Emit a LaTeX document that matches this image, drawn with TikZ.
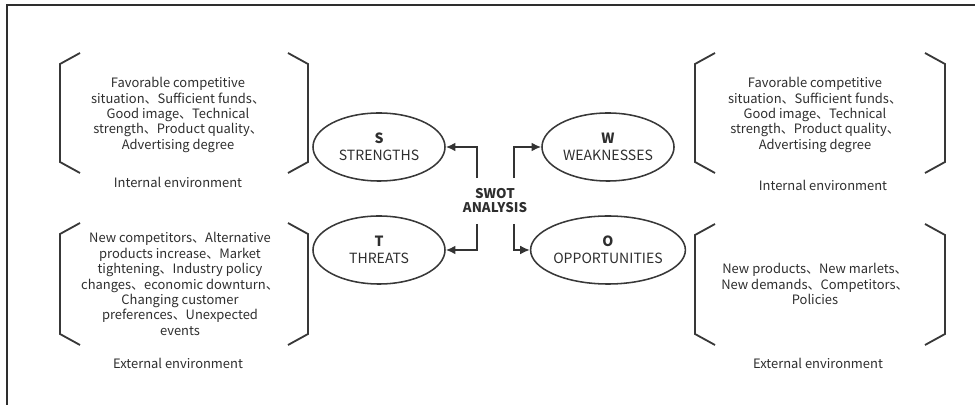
\documentclass[tikz,border=0pt]{standalone}
\usepackage{fontspec}
\setmainfont{Noto Sans CJK SC}
\usetikzlibrary{arrows.meta,positioning,shapes.geometric}
% left x, right x, top y, bottom y
\newcommand{\bracketpair}[4]{%
  \draw[brk] (#1+20,#3) -- (#1,#3+11) -- (#1,#4-11) -- (#1+20,#4);
  \draw[brk] (#2-20,#3) -- (#2,#3+11) -- (#2,#4-11) -- (#2-20,#4);}

\begin{document}
\begin{tikzpicture}[x=0.025cm, y=-0.025cm,
  every node/.style={font=\fontsize{9.2}{11}\selectfont, text=black!82},
  body/.style={align=center, inner sep=0pt},
  env/.style={inner sep=0pt},
  oval/.style={draw=black!78, ellipse, line width=1.1pt, minimum width=3.3cm, minimum height=1.7cm,
    align=center, inner sep=0pt, font=\fontsize{10}{12}\selectfont},
  brk/.style={line width=1.3pt, black!78},
  edge/.style={-{Latex[length=2.4mm, width=2.2mm]}, line width=1.2pt, black!80},
  frame/.style={line width=1.5pt, black!82}]
  \useasboundingbox (0,0) rectangle (975,405);
  \draw[frame] (975,5) -- (7,5) -- (7,405);
  % quadrants
  \node[oval] (s) at (379,147) {\textbf{S}\\STRENGTHS};
  \node[oval] (w) at (608,147) {\textbf{W}\\WEAKNESSES};
  \node[oval] (t) at (379,250) {\textbf{T}\\THREATS};
  \node[oval] (o) at (608,250) {\textbf{O}\\OPPORTUNITIES};
  \node[align=center, inner sep=0pt, minimum height=1.125cm, font=\fontsize{9.5}{10}\selectfont\bfseries]
    (swot) at (495,201) {SWOT\\ANALYSIS};
  \draw[edge] ([xshift=-0.45cm]swot.north) |- (s.east);
  \draw[edge] ([xshift=0.475cm]swot.north) |- (w.west);
  \draw[edge] ([xshift=-0.45cm]swot.south) |- (t.east);
  \draw[edge] ([xshift=0.475cm]swot.south) |- (o.west);
  % factor lists
  \bracketpair{60}{308}{53}{173}
  \bracketpair{60}{308}{223}{345}
  \bracketpair{695}{945}{53}{173}
  \bracketpair{695}{945}{224}{345}
  \node[body] (sl) at (178,115) {Favorable competitive\\situation、Sufficient funds、\\Good image、Technical\\strength、Product quality、\\Advertising degree};
  \node[body] (wl) at (815,115) {Favorable competitive\\situation、Sufficient funds、\\Good image、Technical\\strength、Product quality、\\Advertising degree};
  \node[body] (tl) at (180,284) {New competitors、Alternative\\products increase、Market\\tightening、Industry policy\\changes、economic downturn、\\Changing customer\\preferences、Unexpected\\events};
  \node[body] (ol) at (815,284) {New products、New marlets、\\New demands、Competitors、\\Policies};
  \node[env] (sin) at (178,182) {Internal environment};
  \node[env] (win) at (823,185) {Internal environment};
  \node[env] (tex) at (178,363) {External environment};
  \node[env] (oex) at (818,363) {External environment};
\end{tikzpicture}
\end{document}
